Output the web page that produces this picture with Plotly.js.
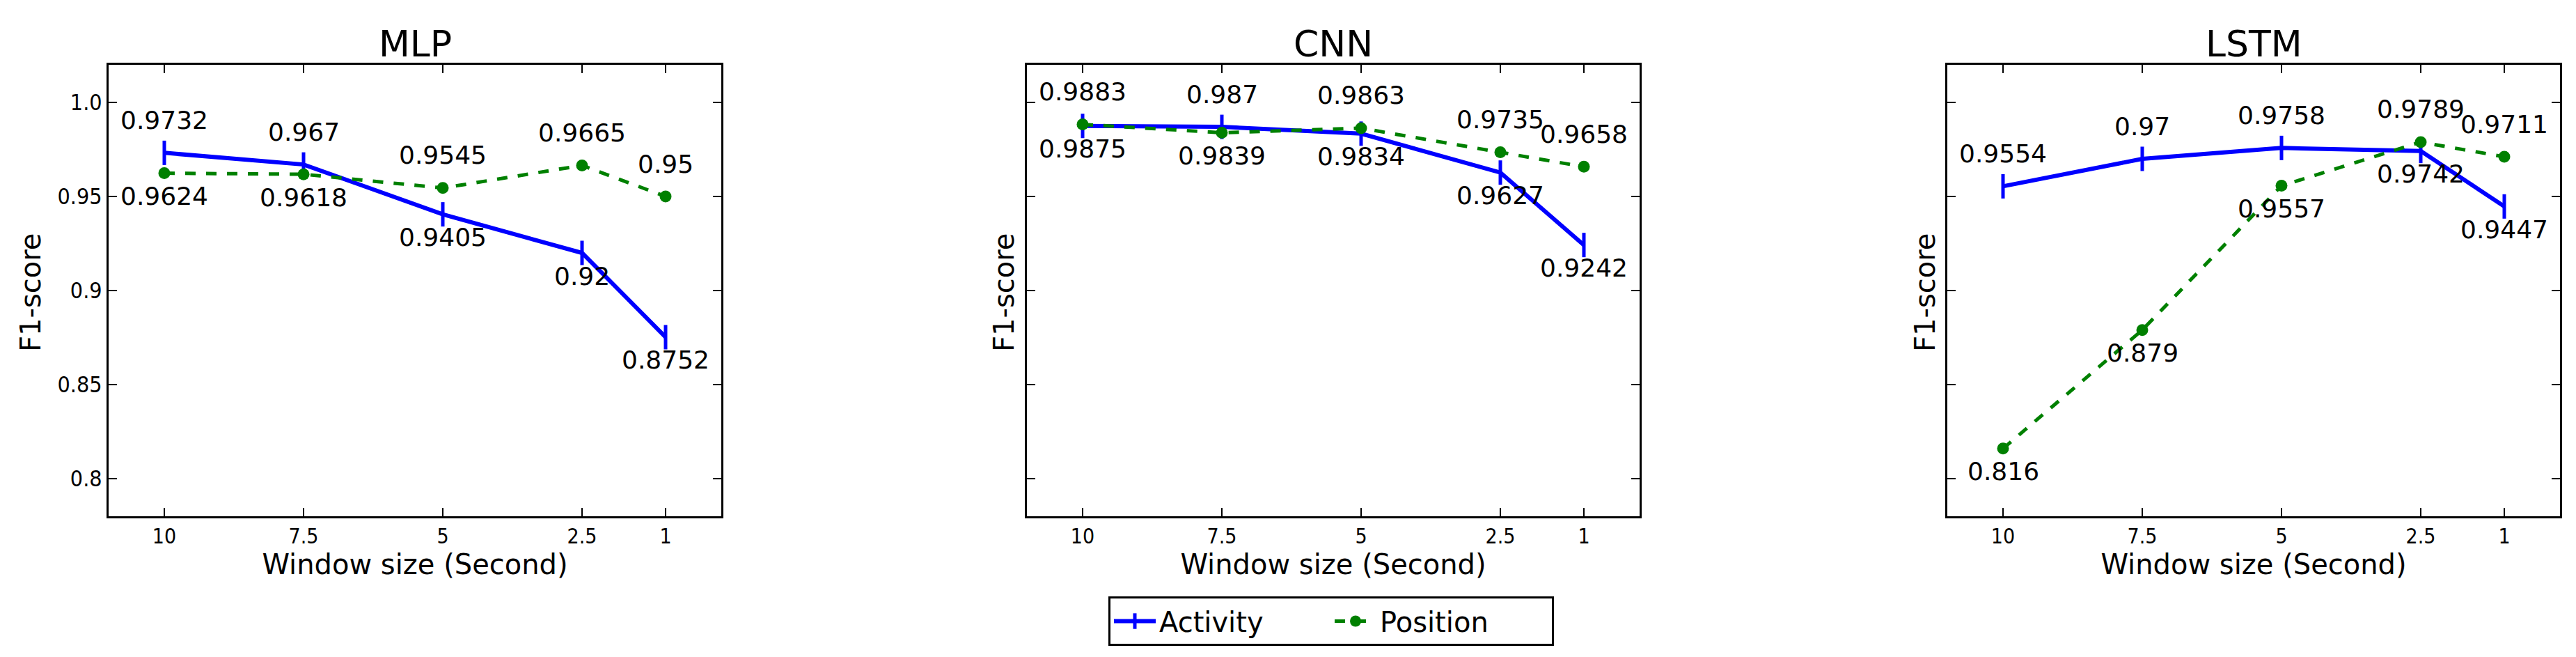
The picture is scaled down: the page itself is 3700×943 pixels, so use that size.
<!DOCTYPE html>
<html>
<head>
<meta charset="utf-8">
<script src="https://cdn.plot.ly/plotly-3.0.1.min.js"></script>
<style>
  body { margin: 0; padding: 0; background: #fff; }
  #chart { width: 3700px; height: 943px; }
</style>
</head>
<body>
<div id="chart"></div>
<script>
// Data
const windowSizes = [10, 7.5, 5, 2.5, 1];
const windowLabels = ['10', '7.5', '5', '2.5', '1'];
const modelNames = ['MLP', 'CNN', 'LSTM'];

const activityMLP = [0.9732, 0.967, 0.9405, 0.92, 0.8752];
const positionMLP = [0.9624, 0.9618, 0.9545, 0.9665, 0.95];
const activityCNN = [0.9875, 0.987, 0.9834, 0.9627, 0.9242];
const positionCNN = [0.9883, 0.9839, 0.9863, 0.9735, 0.9658];
const activityLSTM = [0.9554, 0.97, 0.9758, 0.9742, 0.9447];
const positionLSTM = [0.816, 0.879, 0.9557, 0.9789, 0.9711];

const yTickVals = [0.8, 0.85, 0.9, 0.95, 1.0];
const yTickText = ['0.8', '0.85', '0.9', '0.95', '1.0'];

const W = 3700, H = 943;
const px = v => v / W;
const py = v => 1 - v / H;

const BLUE = '#0000ff';
const GREEN = '#008000';
const FONT = 'DejaVu Sans, sans-serif';
const TICKFONT = 'DejaVu Sans Condensed, Liberation Sans Narrow, DejaVu Sans, sans-serif';

// axes boxes in pixels (left, right) and where each y title sits
const boxes = [[156, 1036], [1475, 2355], [2797, 3677]];
const yTitleX = [44, 1442, 2765];
const yDomain = [py(741), py(93)];

const series = [
    [activityMLP, positionMLP],
    [activityCNN, positionCNN],
    [activityLSTM, positionLSTM]
];

const traces = [];
const annotations = [];
const layout = {
    width: W,
    height: H,
    margin: { l: 0, r: 0, t: 0, b: 0 },
    paper_bgcolor: '#fff',
    plot_bgcolor: '#fff',
    font: { family: FONT, color: '#000' },
    showlegend: true,
    legend: {
        orientation: 'h',
        x: px(1912), xanchor: 'center',
        y: py(856), yanchor: 'top',
        bordercolor: '#000',
        borderwidth: 3,
        font: { family: FONT, size: 40, color: '#000' },
        itemwidth: 60,
        entrywidth: 242,
        traceorder: 'normal'
    },
    annotations: annotations
};

series.forEach((pair, i) => {
    const n = i === 0 ? '' : String(i + 1);
    const xa = 'x' + n, ya = 'y' + n;
    const act = pair[0], pos = pair[1];

    traces.push({
        x: windowSizes, y: act,
        xaxis: xa, yaxis: ya,
        type: 'scatter', mode: 'lines+markers',
        name: 'Activity',
        showlegend: i === 0,
        line: { color: BLUE, width: 6 },
        marker: { symbol: 'line-ns', size: 25, color: BLUE, line: { color: BLUE, width: 5 } }
    });
    traces.push({
        x: windowSizes, y: pos,
        xaxis: xa, yaxis: ya,
        type: 'scatter', mode: 'lines+markers',
        name: 'Position',
        showlegend: i === 0,
        line: { color: GREEN, width: 5, dash: '15px,15px' },
        marker: { symbol: 'circle', size: 17, color: GREEN }
    });

    // value labels: the higher of the two goes above its point, the lower below
    windowSizes.forEach((w, k) => {
        const actHigher = act[k] >= pos[k];
        [[act[k], actHigher], [pos[k], !actHigher]].forEach(([v, above]) => {
            annotations.push({
                x: w, y: v, xref: xa, yref: ya,
                text: String(v),
                showarrow: false,
                xanchor: 'center', yanchor: 'middle',
                yshift: above ? 47 : -33,
                font: { family: FONT, size: 36, color: '#000' }
            });
        });
    });

    // subplot title
    annotations.push({
        x: px((boxes[i][0] + boxes[i][1]) / 2), y: py(63),
        xref: 'paper', yref: 'paper',
        text: modelNames[i],
        showarrow: false,
        xanchor: 'center', yanchor: 'middle',
        font: { family: FONT, size: 52, color: '#000' }
    });

    // y axis title
    annotations.push({
        x: px(yTitleX[i]), y: py(420),
        xref: 'paper', yref: 'paper',
        text: 'F1-score',
        textangle: -90,
        showarrow: false,
        xanchor: 'center', yanchor: 'middle',
        font: { family: FONT, size: 40, color: '#000' }
    });

    layout['xaxis' + n] = {
        domain: [px(boxes[i][0]), px(boxes[i][1])],
        anchor: ya,
        range: [11, 0],
        tickmode: 'array',
        tickvals: windowSizes,
        ticktext: windowLabels,
        ticks: 'inside', ticklen: 12, tickwidth: 1.5, tickcolor: '#000',
        showline: true, linecolor: '#000', linewidth: 3, mirror: 'ticks',
        showgrid: false, zeroline: false,
        tickfont: { family: TICKFONT, size: 30, color: '#000' },
        title: { text: 'Window size (Second)', font: { family: FONT, size: 40, color: '#000' }, standoff: 8 }
    };
    layout['yaxis' + n] = {
        domain: yDomain,
        anchor: xa,
        range: [0.78, 1.02],
        tickmode: 'array',
        tickvals: yTickVals,
        ticktext: yTickText,
        showticklabels: i === 0,
        ticks: 'inside', ticklen: 12, tickwidth: 1.5, tickcolor: '#000',
        showline: true, linecolor: '#000', linewidth: 3, mirror: 'ticks',
        showgrid: false, zeroline: false,
        tickfont: { family: TICKFONT, size: 32, color: '#000' }
    };
});

Plotly.newPlot('chart', traces, layout, { displayModeBar: false, staticPlot: true });
</script>
</body>
</html>
